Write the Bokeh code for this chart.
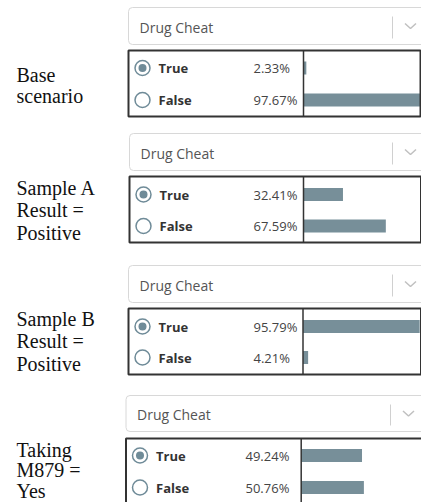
from bokeh.plotting import figure
from bokeh.models import Range1d
from bokeh.core.properties import value
from bokeh.embed import file_html
from bokeh.resources import INLINE

# ---- data ----
scenario_lines = [["Base", "scenario"],
                  ["Sample A", "Result =", "Positive"],
                  ["Sample B", "Result =", "Positive"],
                  ["Taking", "M879 =", "Yes"]]
node_name = "Drug Cheat"
state_labels = ["True", "False"]
true_pct = [2.33, 32.41, 95.79, 49.24]
false_pct = [97.67, 67.59, 4.21, 50.76]

# ---- layout (screen positions, px) ----
dd_top = [7, 133, 265, 395]
dd_bot = [44, 170, 302, 431]
tb_top = [50, 176, 308, 438]
tb_bot = [116, 242, 374, 506]
row_t = [67.5, 194, 326, 455]
row_f = [99.5, 225.5, 357, 487]
left_x = [128, 129, 128, 125.5]
div_x = [303, 303, 302.5, 300.7]
pct_x = [253, 253, 253, 245]
tb_right = [420, 420.5, 420.5, 425]
sep_x = [392, 392, 392, 390]
px_per_pct = [1.218, 1.218, 1.218, 1.235]
label_base = [74, 187, 318, 449]
label_step = [21.5, 22.5, 22.5, 20.5]

BAR = "#778f99"
RADIO = "#6f8b98"

W, H = 421, 502
p = figure(width=W, height=H, x_range=Range1d(0, W), y_range=Range1d(H, 0),
           output_backend="svg", toolbar_location=None, min_border=0)
p.axis.visible = False
p.grid.visible = False
p.outline_line_color = None
p.background_fill_color = "white"
p.border_fill_color = "white"

n = len(true_pct)

# dropdowns
p.quad(left=left_x, right=[440] * n, top=dd_top, bottom=dd_bot, fill_color="white",
       line_color="#d8d8d8", line_width=1, border_radius=4)
p.segment(x0=sep_x, x1=sep_x, y0=[t + 9 for t in dd_top], y1=[b - 6 for b in dd_bot],
          line_color="#d0d0d0", line_width=1)
for i in range(n):
    cy = (dd_top[i] + dd_bot[i]) / 2
    cx = sep_x[i] + 18
    p.line([cx - 5.5, cx, cx + 5.5], [cy - 2.5, cy + 2.5, cy - 2.5], line_color="#c0c0c0", line_width=1.5)
p.text(x=[lx + 11 for lx in left_x], y=[(t + b) / 2 + 1 for t, b in zip(dd_top, dd_bot)],
       text=[node_name] * n, text_font=value("Open Sans"), text_font_size="14px",
       text_color="#555555", text_baseline="middle", text_align="left")

# tables
p.quad(left=left_x, right=tb_right, top=tb_top, bottom=tb_bot, fill_color="white", line_color=None)
bar_h = 13
p.quad(left=div_x, right=[d + v * s for d, v, s in zip(div_x, true_pct, px_per_pct)],
       top=[y - bar_h / 2 for y in row_t], bottom=[y + bar_h / 2 for y in row_t],
       fill_color=BAR, line_color=None)
p.quad(left=div_x, right=[d + v * s for d, v, s in zip(div_x, false_pct, px_per_pct)],
       top=[y - bar_h / 2 for y in row_f], bottom=[y + bar_h / 2 for y in row_f],
       fill_color=BAR, line_color=None)
p.quad(left=left_x, right=tb_right, top=tb_top, bottom=tb_bot, fill_color=None,
       line_color="#333333", line_width=2)
p.segment(x0=div_x, x1=div_x, y0=tb_top, y1=tb_bot, line_color="#333333", line_width=1.5)

# radios
rx = [lx + 14 for lx in left_x]
p.scatter(x=rx + rx, y=row_t + row_f, marker="circle", size=15, fill_color="white",
          line_color=RADIO, line_width=1.5)
p.scatter(x=rx, y=row_t, marker="circle", size=8, fill_color=RADIO, line_color=None)

# state labels
sx = [lx + 30 for lx in left_x]
p.text(x=sx + sx, y=row_t + row_f, text=[state_labels[0]] * n + [state_labels[1]] * n,
       text_font=value("Open Sans"), text_font_size="13px", text_font_style="bold",
       text_color="#333333", text_baseline="middle", text_align="left")
p.text(x=pct_x + pct_x, y=row_t + row_f,
       text=[f"{v:.2f}%" for v in true_pct] + [f"{v:.2f}%" for v in false_pct],
       text_font=value("Open Sans"), text_font_size="13px",
       text_color="#444444", text_baseline="middle", text_align="left")

# scenario labels
lxs, lys, lts = [], [], []
for i, lines in enumerate(scenario_lines):
    for j, t in enumerate(lines):
        lxs.append(16)
        lys.append(label_base[i] + j * label_step[i])
        lts.append(t)
p.text(x=lxs, y=lys, text=lts, text_font=value("Liberation Serif"), text_font_size="20px",
       text_color="#111111", text_baseline="alphabetic", text_align="left")

open("out.html", "w").write(file_html(p, INLINE))
